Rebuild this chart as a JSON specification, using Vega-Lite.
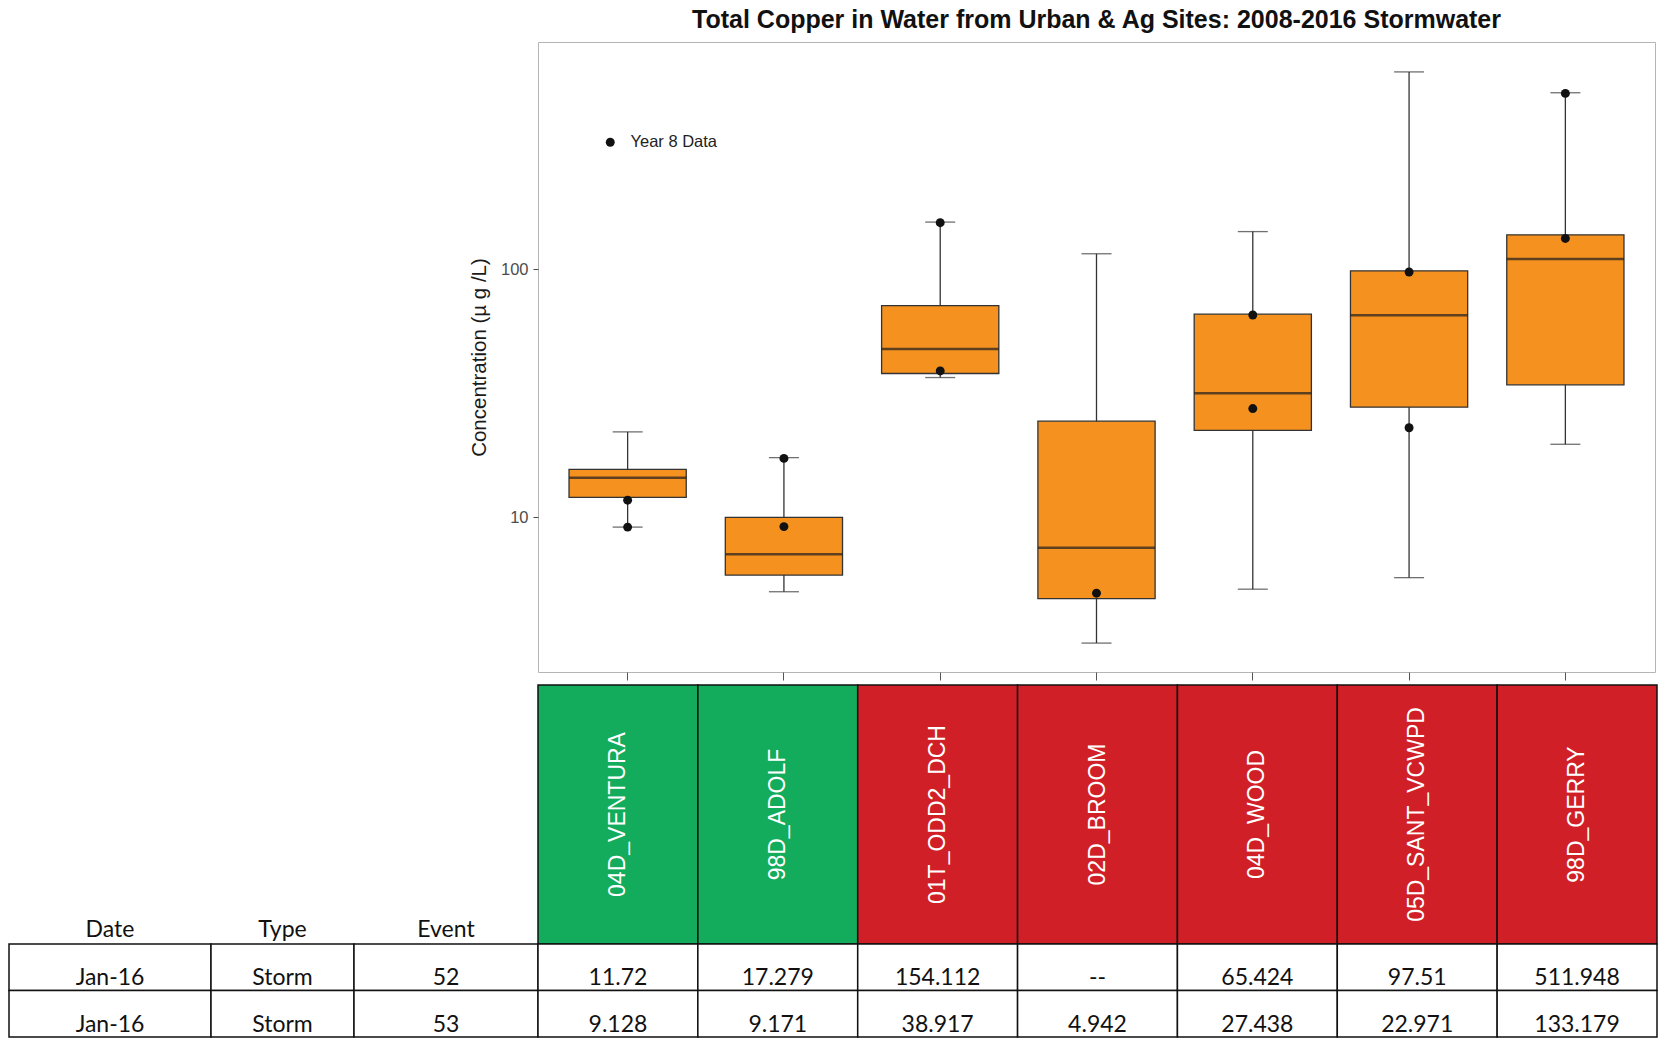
{
  "$schema": "https://vega.github.io/schema/vega-lite/v6.json",
  "background": "white",
  "padding": {"left": 8, "top": 7, "right": 0, "bottom": 0},
  "config": {
    "view": {"stroke": null},
    "font": "Liberation Sans"
  },
  "datasets": {
    "sites": [
      {"site": "04D_VENTURA", "group": "A"},
      {"site": "98D_ADOLF", "group": "A"},
      {"site": "01T_ODD2_DCH", "group": "B"},
      {"site": "02D_BROOM", "group": "B"},
      {"site": "04D_WOOD", "group": "B"},
      {"site": "05D_SANT_VCWPD", "group": "B"},
      {"site": "98D_GERRY", "group": "B"}
    ],
    "stats": [
      {"site": "04D_VENTURA", "lower": 9.13, "q1": 12.04, "median": 14.45, "q3": 15.6, "upper": 22.1},
      {"site": "98D_ADOLF", "lower": 5.01, "q1": 5.85, "median": 7.09, "q3": 10.0, "upper": 17.4},
      {"site": "01T_ODD2_DCH", "lower": 36.6, "q1": 38.0, "median": 47.7, "q3": 71.3, "upper": 155},
      {"site": "02D_BROOM", "lower": 3.11, "q1": 4.7, "median": 7.53, "q3": 24.4, "upper": 115.5},
      {"site": "04D_WOOD", "lower": 5.13, "q1": 22.4, "median": 31.6, "q3": 65.9, "upper": 141.9},
      {"site": "05D_SANT_VCWPD", "lower": 5.71, "q1": 27.8, "median": 65.3, "q3": 98.6, "upper": 625},
      {"site": "98D_GERRY", "lower": 19.7, "q1": 34.2, "median": 109.9, "q3": 137.7, "upper": 515}
    ],
    "year8": [
      {"site": "04D_VENTURA", "event": 52, "value": 11.72},
      {"site": "04D_VENTURA", "event": 53, "value": 9.128},
      {"site": "98D_ADOLF", "event": 52, "value": 17.279},
      {"site": "98D_ADOLF", "event": 53, "value": 9.171},
      {"site": "01T_ODD2_DCH", "event": 52, "value": 154.112},
      {"site": "01T_ODD2_DCH", "event": 53, "value": 38.917},
      {"site": "02D_BROOM", "event": 52, "value": null},
      {"site": "02D_BROOM", "event": 53, "value": 4.942},
      {"site": "04D_WOOD", "event": 52, "value": 65.424},
      {"site": "04D_WOOD", "event": 53, "value": 27.438},
      {"site": "05D_SANT_VCWPD", "event": 52, "value": 97.51},
      {"site": "05D_SANT_VCWPD", "event": 53, "value": 22.971},
      {"site": "98D_GERRY", "event": 52, "value": 511.948},
      {"site": "98D_GERRY", "event": 53, "value": 133.179}
    ],
    "events": [
      {"event": 52, "date": "Jan-16", "type": "Storm"},
      {"event": 53, "date": "Jan-16", "type": "Storm"}
    ]
  },
  "columns": 4,
  "spacing": 0,
  "bounds": "flush",
  "align": "each",
  "resolve": {"scale": {"x": "independent", "y": "independent", "color": "independent", "fill": "independent"}},
  "concat": [
    {"width": 202, "height": 643, "data": {"values": [{}]}, "mark": {"type": "rect", "opacity": 0}, "encoding": {}},
    {"width": 143, "height": 643, "data": {"values": [{}]}, "mark": {"type": "rect", "opacity": 0}, "encoding": {}},
    {"width": 184, "height": 643, "data": {"values": [{}]}, "mark": {"type": "rect", "opacity": 0}, "encoding": {}},
    {
      "width": 1117,
      "height": 630,
      "view": {"stroke": "#b5b5b5", "strokeWidth": 1},
      "title": {
        "text": "Total Copper in Water from Urban & Ag Sites: 2008-2016 Stormwater",
        "frame": "group",
        "anchor": "middle",
        "font": "Liberation Sans",
        "fontSize": 25,
        "fontWeight": "bold",
        "color": "#111111",
        "offset": 9
      },
      "encoding": {
        "x": {
          "field": "site",
          "type": "nominal",
          "scale": {
            "domain": ["04D_VENTURA", "98D_ADOLF", "01T_ODD2_DCH", "02D_BROOM", "04D_WOOD", "05D_SANT_VCWPD", "98D_GERRY"],
            "paddingInner": 0,
            "paddingOuter": 0.0735
          },
          "axis": {
            "title": null,
            "labels": false,
            "domain": false,
            "grid": false,
            "ticks": true,
            "tickSize": 8,
            "tickColor": "#555555",
            "tickWidth": 1,
            "bandPosition": 0.5
          }
        }
      },
      "layer": [
        {
          "data": {"name": "stats"},
          "mark": {"type": "rule", "color": "#333333", "strokeWidth": 1.3},
          "encoding": {
            "y": {
              "field": "lower",
              "type": "quantitative",
              "scale": {"type": "log", "domain": [2.378, 825], "nice": false, "zero": false},
              "axis": {
                "values": [10, 100],
                "format": "d",
                "title": "Concentration (µ g /L)",
                "titleFont": "Liberation Sans",
                "titleFontSize": 20.5,
                "titleFontWeight": "normal",
                "titleColor": "#1a1a1a",
                "titlePadding": 11,
                "labelFont": "Liberation Sans",
                "labelFontSize": 16.5,
                "labelColor": "#4d4d4d",
                "labelPadding": 5,
                "tickColor": "#4d4d4d",
                "tickSize": 5,
                "domain": false,
                "grid": false
              }
            },
            "y2": {"field": "upper"}
          }
        },
        {
          "data": {"name": "stats"},
          "mark": {"type": "tick", "color": "#333333", "size": 30, "thickness": 1.3},
          "encoding": {"y": {"field": "upper", "type": "quantitative"}}
        },
        {
          "data": {"name": "stats"},
          "mark": {"type": "tick", "color": "#333333", "size": 30, "thickness": 1.3},
          "encoding": {"y": {"field": "lower", "type": "quantitative"}}
        },
        {
          "data": {"name": "stats"},
          "mark": {"type": "bar", "width": {"band": 0.75}, "fill": "#f5921f", "stroke": "#333333", "strokeWidth": 1.3},
          "encoding": {
            "y": {"field": "q1", "type": "quantitative"},
            "y2": {"field": "q3"}
          }
        },
        {
          "data": {"name": "stats"},
          "mark": {"type": "tick", "color": "#1e1e1e", "size": 117, "thickness": 2.5},
          "encoding": {"y": {"field": "median", "type": "quantitative"}}
        },
        {
          "data": {"name": "year8"},
          "transform": [{"filter": "datum.value != null"}],
          "mark": {"type": "point", "filled": true, "size": 80, "opacity": 1},
          "encoding": {
            "y": {"field": "value", "type": "quantitative"},
            "color": {
              "datum": "Year 8 Data",
              "type": "nominal",
              "scale": {"range": ["#111111"]},
              "legend": {
                "orient": "none",
                "legendX": 64,
                "legendY": 92,
                "title": null,
                "padding": 0,
                "labelFont": "Liberation Sans",
                "labelFontSize": 16.5,
                "labelColor": "#222222",
                "labelOffset": 12,
                "symbolType": "circle",
                "symbolSize": 80,
                "symbolStrokeWidth": 0
              }
            }
          }
        }
      ]
    },
    {
      "width": 202, "height": 259,
      "data": {"values": [{"column": "Date"}]},
      "mark": {"type": "text", "font": "Lato", "fontSize": 23, "color": "#111111", "baseline": "alphabetic", "dy": -7},
      "encoding": {"text": {"field": "column"}, "y": {"value": "height"}}
    },
    {
      "width": 143, "height": 259,
      "data": {"values": [{"column": "Type"}]},
      "mark": {"type": "text", "font": "Lato", "fontSize": 23, "color": "#111111", "baseline": "alphabetic", "dy": -7},
      "encoding": {"text": {"field": "column"}, "y": {"value": "height"}}
    },
    {
      "width": 184, "height": 259,
      "data": {"values": [{"column": "Event"}]},
      "mark": {"type": "text", "font": "Lato", "fontSize": 23, "color": "#111111", "baseline": "alphabetic", "dy": -7},
      "encoding": {"text": {"field": "column"}, "y": {"value": "height"}}
    },
    {
      "width": 1119, "height": 259,
      "data": {"name": "sites"},
      "encoding": {
        "x": {
          "field": "site", "type": "nominal",
          "scale": {"domain": ["04D_VENTURA", "98D_ADOLF", "01T_ODD2_DCH", "02D_BROOM", "04D_WOOD", "05D_SANT_VCWPD", "98D_GERRY"], "paddingInner": 0, "paddingOuter": 0},
          "axis": null
        }
      },
      "layer": [
        {
          "mark": {"type": "rect", "stroke": "#111111", "strokeWidth": 1.5},
          "encoding": {
            "y": {"value": 0},
            "y2": {"value": "height"},
            "fill": {"field": "group", "type": "nominal", "scale": {"domain": ["A", "B"], "range": ["#13ab5c", "#d11f28"]}, "legend": null}
          }
        },
        {
          "mark": {"type": "text", "angle": 270, "color": "white", "font": "Liberation Sans", "fontSize": 23, "align": "center", "baseline": "middle"},
          "encoding": {"text": {"field": "site", "type": "nominal"}}
        }
      ]
    },
    {
      "width": 202, "height": 93,
      "data": {"name": "events"},
      "encoding": {"y": {"field": "event", "type": "nominal", "scale": {"paddingInner": 0, "paddingOuter": 0}, "axis": null}},
      "layer": [
        {"mark": {"type": "rect", "fill": "white", "stroke": "#111111", "strokeWidth": 1.5}, "encoding": {"x": {"value": 0}, "x2": {"value": "width"}}},
        {"mark": {"type": "text", "font": "Lato", "fontSize": 23, "color": "#111111", "baseline": "alphabetic", "dy": 18}, "encoding": {"text": {"field": "date", "type": "nominal"}}}
      ]
    },
    {
      "width": 143, "height": 93,
      "data": {"name": "events"},
      "encoding": {"y": {"field": "event", "type": "nominal", "scale": {"paddingInner": 0, "paddingOuter": 0}, "axis": null}},
      "layer": [
        {"mark": {"type": "rect", "fill": "white", "stroke": "#111111", "strokeWidth": 1.5}, "encoding": {"x": {"value": 0}, "x2": {"value": "width"}}},
        {"mark": {"type": "text", "font": "Lato", "fontSize": 23, "color": "#111111", "baseline": "alphabetic", "dy": 18}, "encoding": {"text": {"field": "type", "type": "nominal"}}}
      ]
    },
    {
      "width": 184, "height": 93,
      "data": {"name": "events"},
      "encoding": {"y": {"field": "event", "type": "nominal", "scale": {"paddingInner": 0, "paddingOuter": 0}, "axis": null}},
      "layer": [
        {"mark": {"type": "rect", "fill": "white", "stroke": "#111111", "strokeWidth": 1.5}, "encoding": {"x": {"value": 0}, "x2": {"value": "width"}}},
        {"mark": {"type": "text", "font": "Lato", "fontSize": 23, "color": "#111111", "baseline": "alphabetic", "dy": 18}, "encoding": {"text": {"field": "event", "type": "nominal"}}}
      ]
    },
    {
      "width": 1119, "height": 93,
      "data": {"name": "year8"},
      "encoding": {
        "x": {
          "field": "site", "type": "nominal",
          "scale": {"domain": ["04D_VENTURA", "98D_ADOLF", "01T_ODD2_DCH", "02D_BROOM", "04D_WOOD", "05D_SANT_VCWPD", "98D_GERRY"], "paddingInner": 0, "paddingOuter": 0},
          "axis": null
        },
        "y": {"field": "event", "type": "nominal", "scale": {"paddingInner": 0, "paddingOuter": 0}, "axis": null}
      },
      "layer": [
        {"mark": {"type": "rect", "fill": "white", "stroke": "#111111", "strokeWidth": 1.5}},
        {
          "mark": {"type": "text", "font": "Lato", "fontSize": 23, "color": "#111111", "baseline": "alphabetic", "dy": 18},
          "encoding": {"text": {"condition": {"test": "datum.value === null", "value": "--"}, "field": "value", "type": "nominal"}}
        }
      ]
    }
  ]
}
